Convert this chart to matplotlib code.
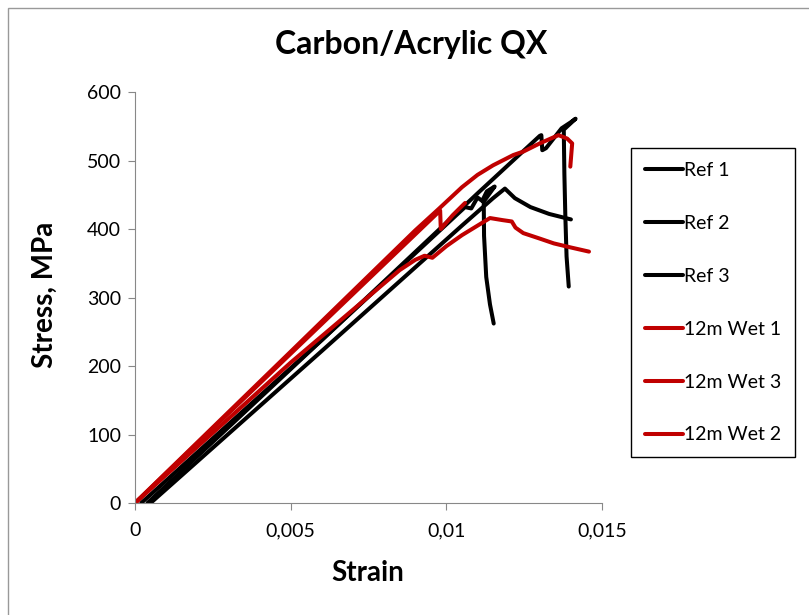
import matplotlib
matplotlib.use("Agg")
import matplotlib.pyplot as plt
from matplotlib.patches import Rectangle

plt.rcParams['font.family'] = ['Lato', 'DejaVu Sans']

# strain / stress
ref1_x = [0.0004, 0.0060, 0.0110, 0.0125, 0.0130, 0.01305, 0.01308, 0.0132, 0.0137, 0.0140, 0.01415,
          0.01377, 0.01379, 0.01382, 0.01386, 0.01393]
ref1_y = [0, 238, 452, 515, 536, 537, 515, 518, 547, 556, 561,
          545, 480, 420, 360, 316]
ref2_x = [0.0005, 0.0060, 0.0105, 0.0110, 0.0115, 0.01188, 0.0122, 0.0127, 0.0133, 0.0140]
ref2_y = [0, 222, 405, 425, 445, 459, 445, 432, 422, 414]
ref3_x = [0.0002, 0.0060, 0.0106, 0.0108, 0.0110, 0.01115, 0.0113, 0.01155, 0.0112,
          0.01121, 0.01128, 0.0114, 0.01152]
ref3_y = [0, 238, 432, 430, 446, 441, 455, 462, 440,
          390, 330, 290, 262]
wet1_x = [0, 0.0050, 0.0090, 0.00977, 0.0105, 0.0110, 0.0115, 0.01215, 0.01247, 0.0130, 0.0136,
          0.01388, 0.01404, 0.01398]
wet1_y = [0, 221, 398, 430, 461, 479, 493, 508, 513, 525, 537,
          532, 525, 491]
wet3_x = [0, 0.0050, 0.0098, 0.00982, 0.0102, 0.0106]
wet3_y = [0, 218, 427, 400, 420, 438]
wet2_x = [0, 0.0050, 0.0085, 0.0090, 0.0093, 0.00955, 0.0100, 0.0105, 0.0114, 0.0118, 0.0121,
          0.01222, 0.01247, 0.0130, 0.01345, 0.0140, 0.01458]
wet2_y = [0, 205, 340, 355, 361, 358, 375, 391, 416, 413, 411,
          402, 394, 386, 379, 373, 367]

labels = ["Ref 1", "Ref 2", "Ref 3", "12m Wet 1", "12m Wet 3", "12m Wet 2"]
xs = [ref1_x, ref2_x, ref3_x, wet1_x, wet3_x, wet2_x]
ys = [ref1_y, ref2_y, ref3_y, wet1_y, wet3_y, wet2_y]
colors = ["black", "black", "black", "#C00000", "#C00000", "#C00000"]

fig = plt.figure(figsize=(8.09, 6.15), dpi=100)
ax = fig.add_axes([0.1669, 0.1821, 0.5773, 0.6683])

for x, y, c, lab in zip(xs, ys, colors, labels):
    ax.plot(x, y, color=c, lw=2.9, label=lab, solid_capstyle='round')

ax.set_xlim(0, 0.015)
ax.set_ylim(0, 600)
ax.set_xticks([0, 0.005, 0.01, 0.015])
ax.set_xticklabels(["0", "0,005", "0,01", "0,015"])
ax.set_yticks(range(0, 601, 100))
ax.tick_params(labelsize=14, colors="#888888", labelcolor="black", length=5, pad=5)
ax.tick_params(axis="x", pad=9)
for s in ["top", "right"]:
    ax.spines[s].set_visible(False)
for s in ["left", "bottom"]:
    ax.spines[s].set_color("#888888")

fig.text(0.508, 0.928, "Carbon/Acrylic QX", ha="center", va="center", fontsize=23, fontweight="bold")
fig.text(0.455, 0.068, "Strain", ha="center", va="center", fontsize=20, fontweight="bold")
fig.text(0.056, 0.520, "Stress, MPa", ha="center", va="center", fontsize=20, fontweight="bold", rotation=90)

leg = fig.legend(loc="upper left", bbox_to_anchor=(631 / 809, 1 - 148 / 615), fontsize=14,
                 handlelength=1.95, handletextpad=0.1, labelspacing=1.85,
                 borderpad=0.7, borderaxespad=0, fancybox=False, edgecolor="black", framealpha=1)
leg.get_frame().set_linewidth(1.0)

fig.patches.append(Rectangle((8 / 809, -0.05), 1.1, 1 - 8 / 615 + 0.05, transform=fig.transFigure,
                             fill=False, edgecolor="#999999", lw=1.0))

fig.savefig("out.png", dpi=100)
